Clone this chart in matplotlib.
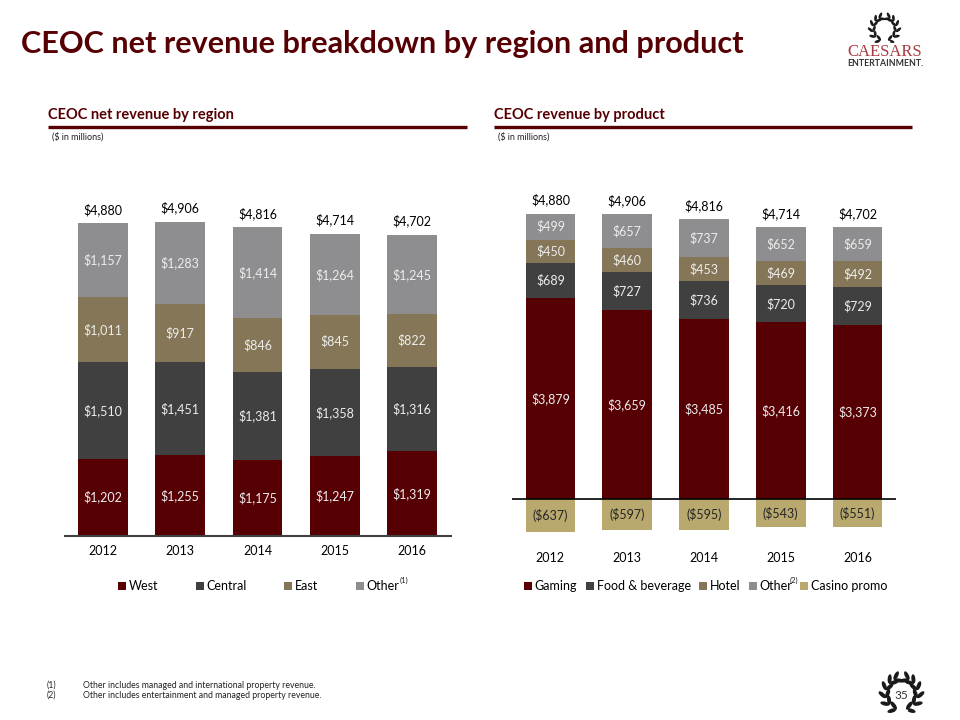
import numpy as np
import matplotlib
matplotlib.use("Agg")
import matplotlib.pyplot as plt
from matplotlib.patches import Rectangle, Ellipse

plt.rcParams['font.family'] = ['Lato', 'DejaVu Sans']

years = ['2012', '2013', '2014', '2015', '2016']
west = [1202, 1255, 1175, 1247, 1319]
central = [1510, 1451, 1381, 1358, 1316]
east = [1011, 917, 846, 845, 822]
other_region = [1157, 1283, 1414, 1264, 1245]
totals = [4880, 4906, 4816, 4714, 4702]
gaming = [3879, 3659, 3485, 3416, 3373]
food = [689, 727, 736, 720, 729]
hotel = [450, 460, 453, 469, 492]
other_product = [499, 657, 737, 652, 659]
casino_promo = [-637, -597, -595, -543, -551]

RED, DARK, TAN, GREY, SAND = '#560004', '#404040', '#847656', '#8e8e90', '#baa96f'
W, H = 960, 720
fig = plt.figure(figsize=(9.6, 7.2), dpi=100)
over = fig.add_axes([0, 0, 1, 1], zorder=5)
over.set_xlim(0, W); over.set_ylim(H, 0); over.axis('off')

def px_axes(x0, x1, ytop, ybot):
    return fig.add_axes([x0 / W, 1 - ybot / H, (x1 - x0) / W, (ybot - ytop) / H])

def money(v):
    return f"(${-v:,})" if v < 0 else f"${v:,}"

def stack(ax, series, colors, label_colors, fs=9):
    xs = np.arange(len(years))
    pos = np.zeros(len(years))
    for vals, c, lc in zip(series, colors, label_colors):
        v = np.array(vals, float)
        bottom = np.where(v >= 0, pos, 0)
        ax.bar(xs, v, 0.645, bottom=bottom, color=c, linewidth=0)
        for x, b, val in zip(xs, bottom, v):
            ax.text(x, b + val / 2, money(int(val)), ha='center', va='center', color=lc, fontsize=fs)
        pos = pos + np.where(v >= 0, v, 0)
    for x, p, t in zip(xs, pos, totals):
        ax.annotate(money(t), (x, p), xytext=(0, 10), textcoords='offset points',
                    ha='center', va='center', fontsize=fs, color='black')
    ax.set_xlim(-0.5, len(years) - 0.5)
    ax.set_xticks(xs, years, fontsize=fs, color='black')
    ax.tick_params(axis='x', length=0, pad=0)
    ax.set_yticks([])
    for s in ['top', 'left', 'right']:
        ax.spines[s].set_visible(False)
    ax.patch.set_alpha(0)

LIGHT = '#ececec'
# left chart: baseline y=535.5, 0.064 px per unit
axL = px_axes(64.5, 450.5, 175.5, 535.5)
stack(axL, [west, central, east, other_region], [RED, DARK, TAN, GREY], [LIGHT] * 4)
axL.set_ylim(0, 360 / 0.0640)
axL.spines['bottom'].set_linewidth(1.5); axL.spines['bottom'].set_color('#404040')
axL.tick_params(axis='x', pad=6.5)

# right chart: baseline y=499, 0.0517 px per unit
axR = px_axes(512, 896, 175, 540)
stack(axR, [gaming, food, hotel, other_product, casino_promo], [RED, DARK, TAN, GREY, SAND],
      [LIGHT] * 4 + ['#262626'])
axR.set_ylim(-41 / 0.0517, 324 / 0.0517)
axR.spines['bottom'].set_visible(False)
axR.axhline(0, color='black', lw=1.2, zorder=4)
axR.tick_params(axis='x', pad=8.5)

# headers
over.text(21, 44.5, 'CEOC net revenue breakdown by region and product', fontsize=22.05, fontweight='bold',
          color=RED, va='center', ha='left')
for x0, x1, title in [(48, 467, 'CEOC net revenue by region'), (494, 912, 'CEOC revenue by product')]:
    over.text(x0, 115, title, fontsize=10.5, fontweight='bold', color=RED, va='center')
    over.plot([x0, x1], [127, 127], color=RED, lw=2.4, solid_capstyle='butt')
    over.text(x0 + 4, 137, '($ in millions)', fontsize=6.5, color='#222222', va='center')

# legends
def legend(items, y):
    for sx, tx, label, c in items:
        over.add_patch(Rectangle((sx, y - 3.8), 7.6, 7.6, color=c, lw=0))
        over.text(tx, y, label, fontsize=9, va='center', color='black')

legend([(118, 129, 'West', RED), (196, 206, 'Central', DARK), (284, 295, 'East', TAN), (356, 366, 'Other', GREY)], 586)
over.text(400, 580.5, '(1)', fontsize=5.5, va='center', color='#222222')
legend([(524, 534.5, 'Gaming', RED), (586, 597, 'Food & beverage', DARK), (699, 710, 'Hotel', TAN),
        (749, 759, 'Other', GREY), (800, 811, 'Casino promo', SAND)], 586)
over.text(790, 580, '(2)', fontsize=5.5, va='center', color='#222222')

# footnotes
for y, n, t in [(685, '(1)', 'Other includes managed and international property revenue.'),
                (695.5, '(2)', 'Other includes entertainment and managed property revenue.')]:
    over.text(47, y, n, fontsize=6.3, va='center', color='#222222')
    over.text(83, y, t, fontsize=6.3, va='center', color='#222222')

# laurel emblem
def laurel(cx, cy, R, leaf):
    for s in (-1, 1):
        for deg in (-72, -42, -14, 14, 40, 62):
            a = np.radians(deg)
            px, py = cx + s * R * np.cos(a), cy - R * np.sin(a)
            tx, ty = -s * np.sin(a), -np.cos(a)
            base = np.arctan2(ty, tx)
            for off in (-35, 35):
                th = base + np.radians(off)
                over.add_patch(Ellipse((px + np.cos(th) * leaf * .5, py + np.sin(th) * leaf * .5),
                                       leaf, leaf * .42, angle=np.degrees(th), color='#1a1a1a', lw=0))
    over.plot([cx - R * .35, cx + R * .35], [cy + R * .98, cy + R * .98], color='white', lw=1)

laurel(884.5, 29, 12, 6.5)
over.text(885, 52.5, 'CAESARS', fontsize=12, family='Liberation Serif', color='#a83a3f', ha='center', va='center')
over.text(885.5, 64, 'ENTERTAINMENT.', fontsize=6.3, fontweight='bold', color='#333333', ha='center', va='center')
laurel(901.5, 694, 16, 9.5)
over.text(901.5, 695.5, '35', fontsize=8.5, color='#333333', ha='center', va='center')

fig.savefig('out.png', dpi=100)
